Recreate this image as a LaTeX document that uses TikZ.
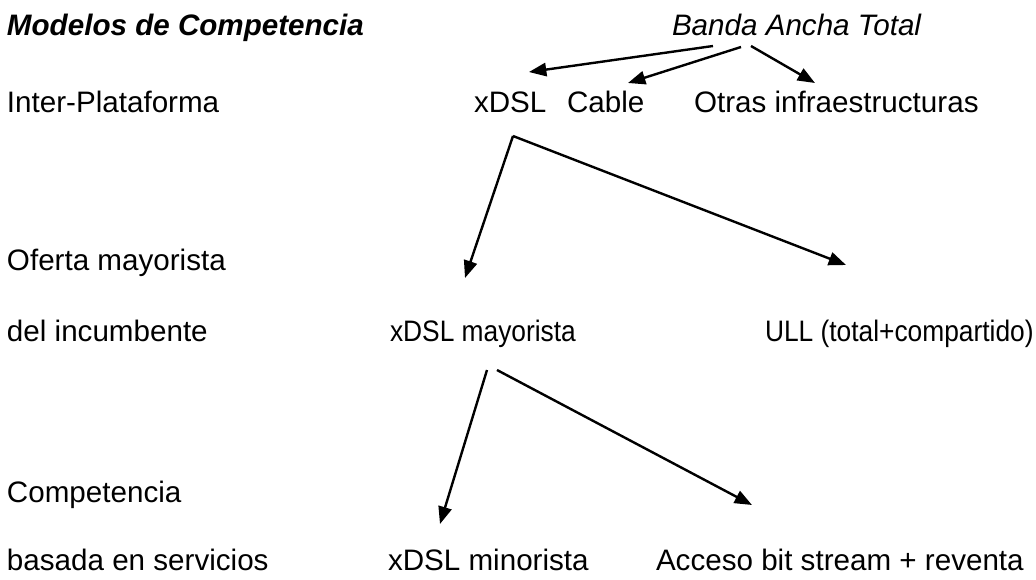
\documentclass[tikz,border=0pt]{standalone}
\usepackage{fontspec}
\setmainfont{Liberation Sans}
\newfontfamily\narrowsans[FakeStretch=0.89]{Liberation Sans}
\usetikzlibrary{arrows.meta, positioning}

\begin{document}
\begin{tikzpicture}[x=0.75pt, y=-0.75pt,
        every node/.style={anchor=base west, inner sep=0pt, outer sep=0pt, font=\fontsize{22.2}{26}\selectfont},
        narrow/.style={font=\fontsize{22.2}{26}\selectfont\narrowsans}]

    \useasboundingbox (0,0) rectangle (1036,579);

        % left column
        \node (modelos) at (7,35) {\bfseries\itshape Modelos de Competencia};
        \node (inter) at (7,112) {Inter-Plataforma};
        \node (oferta) at (7,270) {Oferta mayorista};
        \node (incumbente) at (7,341) {del incumbente};
        \node (competencia) at (7,502) {Competencia};
        \node (servicios) at (7,570) {basada en servicios};

        % tree
        \node (banda) at (672,35) {\itshape Banda Ancha Total};
        \node (xdsl) at (474,112) {xDSL};
        \node (cable) at (567,112) {Cable};
        \node (otras) at (694,112) {Otras infraestructuras};
        \node (xdslmay) [narrow] at (390,341) {xDSL mayorista};
        \node (ull) [narrow] at (765,341) {ULL (total+compartido)};
        \node (xdslmin) at (388,570) {xDSL minorista};
        \node (acceso) at (656,570) {Acceso bit stream + reventa};

        \path [-{Triangle[length=13pt, width=10pt]}, line width=1.8pt]
            ([shift={(41,11)}]banda.base west) edge ([shift={(55,-40)}]xdsl.base west)
            ([shift={(69,12)}]banda.base west) edge ([shift={(61,-29)}]cable.base west)
            ([shift={(79,11)}]banda.base west) edge ([shift={(121,-29)}]otras.base west)
            ([shift={(39,24)}]xdsl.base west) edge ([shift={(75,-63)}]xdslmay.base west)
            ([shift={(39,24)}]xdsl.base west) edge ([shift={(81,-76)}]ull.base west)
            ([shift={(97,29)}]xdslmay.base west) edge ([shift={(52,-46)}]xdslmin.base west)
            ([shift={(107,29)}]xdslmay.base west) edge ([shift={(96,-65)}]acceso.base west);

    \end{tikzpicture}
\end{document}
